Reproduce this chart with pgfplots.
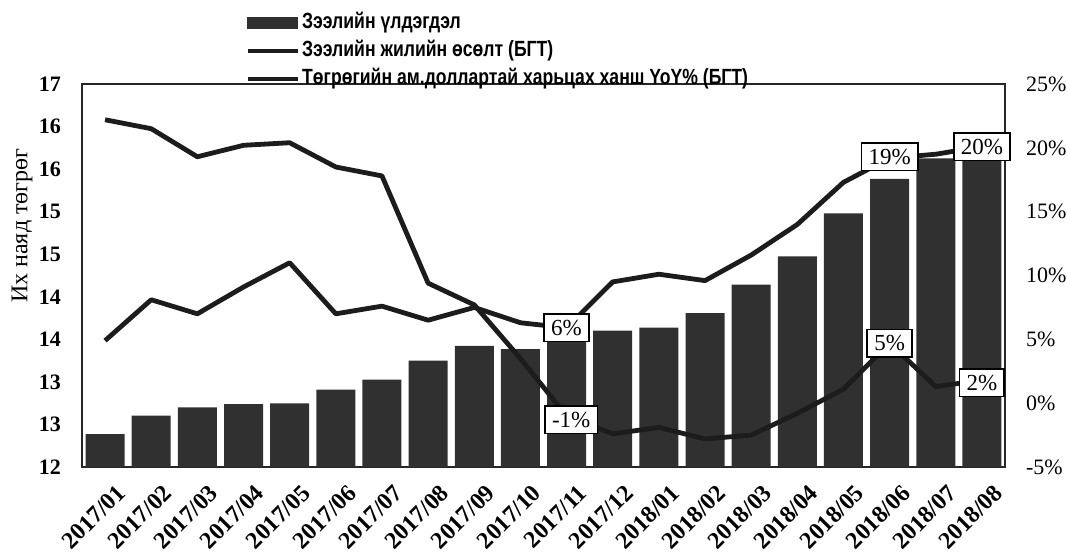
\documentclass[border=0pt]{standalone}
\usepackage{fontspec}
\setmainfont{Liberation Serif}
\newfontfamily\narrow[FakeStretch=0.8]{Liberation Sans}
\usepackage{pgfplots}
\usepackage{pgfplotstable}
\pgfplotsset{compat=1.18}
\definecolor{barc}{RGB}{48,48,48}
\definecolor{linec}{RGB}{28,28,28}

\pgfplotstableread{
x y
0 12.43
1 12.67
2 12.78
3 12.82
4 12.83
5 13.01
6 13.14
7 13.39
8 13.58
9 13.54
10 13.68
11 13.78
12 13.82
13 14.01
14 14.38
15 14.75
16 15.31
17 15.76
18 16.03
19 16.10
}\balance

\pgfplotstableread{
x y
0 4.9
1 8.1
2 7.0
3 9.1
4 11.0
5 7.0
6 7.6
7 6.5
8 7.5
9 6.3
10 5.9
11 9.5
12 10.1
13 9.6
14 11.6
15 14.0
16 17.3
17 19.2
18 19.5
19 20.1
}\loangrowth

\pgfplotstableread{
x y
0 22.2
1 21.5
2 19.3
3 20.2
4 20.4
5 18.5
6 17.8
7 9.4
8 7.7
9 3.5
10 -1.0
11 -2.4
12 -1.9
13 -2.8
14 -2.5
15 -0.8
16 1.1
17 4.7
18 1.3
19 1.8
}\fxrate

\tikzset{
  lbl/.style={draw=black, line width=0.8pt, fill=white, inner xsep=3.5pt, inner ysep=3pt,
    font=\fontsize{11.5}{11.5}\selectfont},
}

\begin{document}
\begin{tikzpicture}
\pgfplotsset{
  every axis/.append style={
    scale only axis, width=461.5pt, height=191.5pt,
    xmin=-0.5, xmax=19.5,
    major tick length=0pt,
  },
}
\begin{axis}[
  ymin=12, ymax=17,
  ytick={12,12.5556,13.1111,13.6667,14.2222,14.7778,15.3333,15.8889,16.4444,17},
  yticklabels={12,13,13,14,14,15,15,16,16,17},
  ytick pos=left,
  xtick={0,...,19},
  xticklabels={2017/01,2017/02,2017/03,2017/04,2017/05,2017/06,2017/07,2017/08,2017/09,2017/10,2017/11,2017/12,2018/01,2018/02,2018/03,2018/04,2018/05,2018/06,2018/07,2018/08},
  x tick label style={rotate=45, anchor=north east, font=\bfseries\fontsize{12}{12}\selectfont, xshift=1.5pt, yshift=-6pt},
  y tick label style={font=\bfseries\fontsize{11}{11}\selectfont, xshift=-7pt},
  axis line style={line width=0.8pt, black!85},
  ylabel={Их наяд төгрөг},
  ylabel style={at={(axis description cs:-0.065,0.63)}, anchor=center, font=\fontsize{12}{12}\selectfont},
]
\addplot[ybar, bar width=0.845, fill=barc, draw=none] table {\balance};
\end{axis}
\begin{axis}[
  ymin=-5, ymax=25,
  axis y line*=right, axis x line=none,
  ytick={-5,0,5,10,15,20,25},
  yticklabels={-5\%,0\%,5\%,10\%,15\%,20\%,25\%},
  y tick label style={font=\fontsize{11}{11}\selectfont, xshift=7pt},
  axis line style={line width=0.8pt, black!85},
  clip=false,
  legend style={at={(0.1766,1.193)}, anchor=north west, draw=none, fill=none,
    inner sep=0pt, row sep=1.5pt, legend cell align=left,
    font=\narrow\bfseries\fontsize{11}{11}\selectfont,
    nodes={inner sep=1pt, text height=8pt, text depth=2.5pt}},
]
\addlegendimage{legend image code/.code={\fill[barc] (0pt,-2.6pt) rectangle (25pt,2.6pt);}}
\addlegendentry{Зээлийн үлдэгдэл}
\addplot[line width=2.4pt, linec, line join=round,
  legend image code/.code={\draw[line width=2.4pt, linec] (0pt,0pt)--(25pt,0pt);}] table {\loangrowth};
\addlegendentry{Зээлийн жилийн өсөлт (БГТ)}
\addplot[line width=2.4pt, linec, line join=round,
  legend image code/.code={\draw[line width=2.4pt, linec] (0pt,0pt)--(25pt,0pt);}] table {\fxrate};
\addlegendentry{Төгрөгийн ам.доллартай харьцах ханш YoY\% (БГТ)}
\node[lbl] at (axis cs:10,5.9) {6\%};
\node[lbl] at (axis cs:10.1,-1.3) {-1\%};
\node[lbl] at (axis cs:17,19.3) {19\%};
\node[lbl] at (axis cs:19,20.1) {20\%};
\node[lbl] at (axis cs:17,4.7) {5\%};
\node[lbl] at (axis cs:19,1.6) {2\%};
\end{axis}
\pgfresetboundingbox
\useasboundingbox (-41pt,-43.5pt) rectangle (492.5pt,233.5pt);
\end{tikzpicture}
\end{document}
